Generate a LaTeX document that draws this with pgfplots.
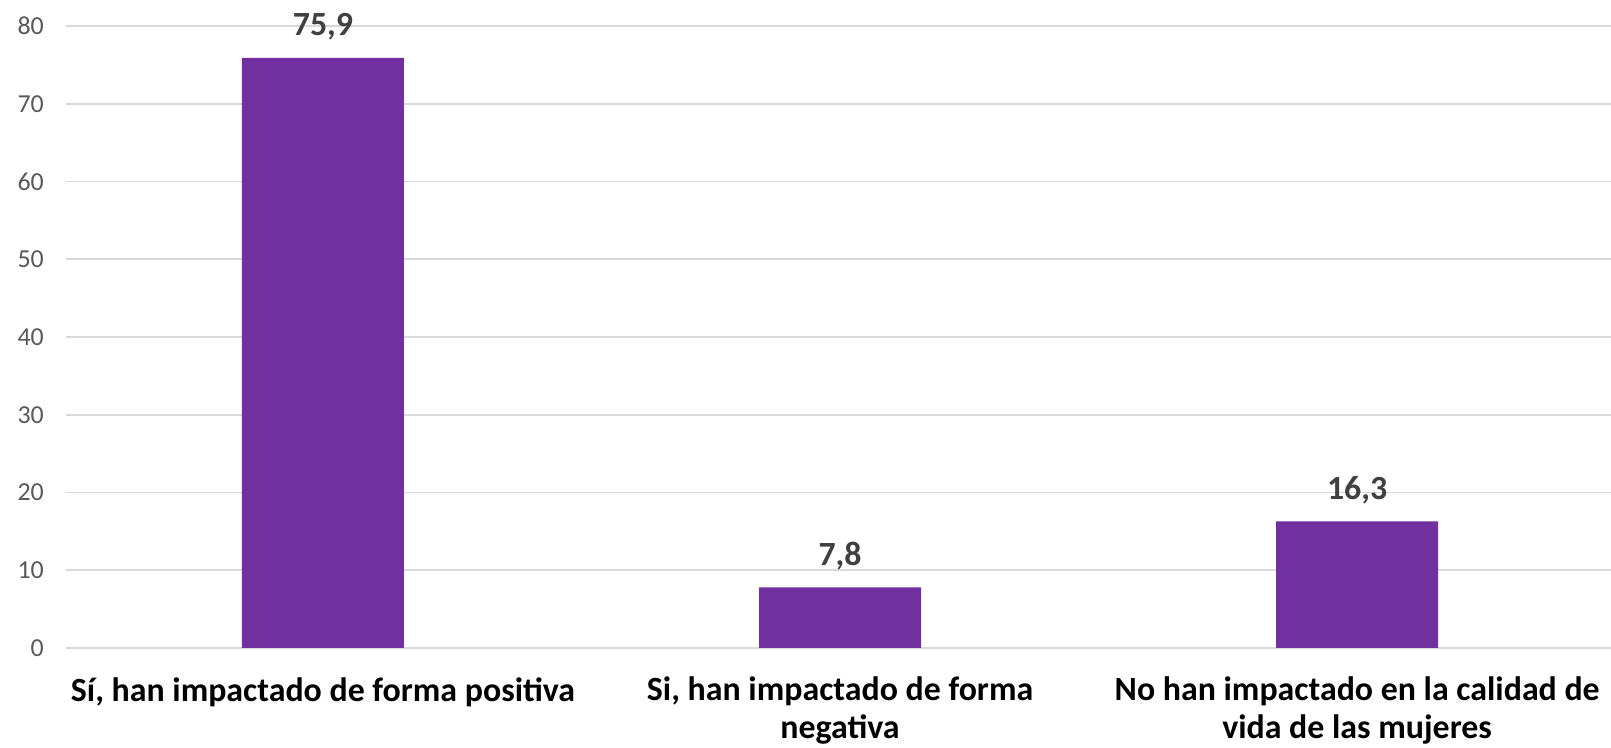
\documentclass[border=0pt]{standalone}
\usepackage{pgfplots}
\pgfplotsset{compat=1.18}
\usepackage{fontspec}
\setmainfont{Carlito}
\definecolor{barpurple}{HTML}{7030A0}
\definecolor{gridgray}{HTML}{D9D9D9}
\definecolor{ticklab}{HTML}{595959}
\definecolor{datalab}{HTML}{404040}
\begin{document}
\begin{tikzpicture}
\begin{axis}[
  at={(66bp,100bp)}, anchor=south west,
  scale only axis,
  width=1545bp, height=622bp,
  xmin=-0.497, xmax=2.491,
  ymin=0, ymax=80,
  ytick={0,10,...,80},
  xtick={0,1,2},
  xticklabels={{Sí, han impactado de forma positiva},{Si, han impactado de forma\\negativa},{No han impactado en la calidad de\\vida de las mujeres}},
  axis line style={draw=none},
  major tick length=0pt,
  ymajorgrids,
  grid style={gridgray, line width=1.6bp},
  /pgf/number format/assume math mode=true,
  yticklabel style={font=\fontsize{26}{30}\selectfont, text=ticklab, anchor=east, inner sep=0pt, xshift=-22bp},
  xticklabel style={font=\fontsize{34}{38}\selectfont\bfseries, text=black, anchor=north, inner sep=0pt, yshift=-29bp, align=center},
  ybar, bar width=162bp, bar shift=0pt,
  nodes near coords,
  nodes near coords style={font=\fontsize{34}{38}\selectfont\bfseries, text=datalab, anchor=base, inner sep=0pt, yshift=22bp, /pgf/number format/.cd, use comma, fixed, fixed zerofill, precision=1},
  clip=false,
]
\addplot[fill=barpurple, draw=none] coordinates {(0,75.9) (1,7.8) (2,16.3)};
\end{axis}
\pgfresetboundingbox
\path (0,0) rectangle (1611bp,748bp);
\end{tikzpicture}
\end{document}
